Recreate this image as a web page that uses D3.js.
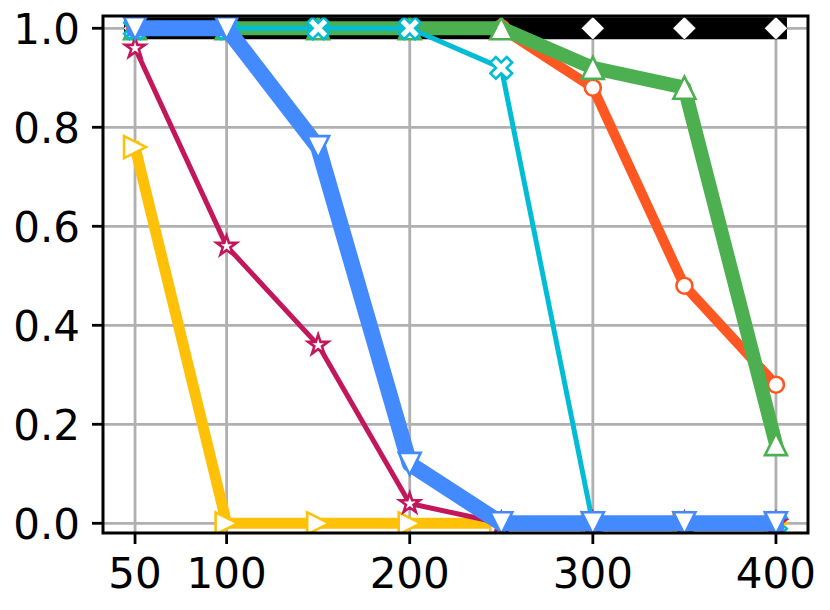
<!DOCTYPE html>
<html><head><meta charset="utf-8">
<script src="https://cdn.jsdelivr.net/npm/d3@7"></script>
<style>body{margin:0;background:#fff}svg{display:block}</style>
</head><body>
<svg id="c" width="830" height="610"></svg>
<script>
const xValues = [50, 100, 150, 200, 250, 300, 350, 400];
const xTicks = [50, 100, 200, 300, 400];
const yTicks = [0, 0.2, 0.4, 0.6, 0.8, 1.0];
const blackVals   = [1, 1, 1, 1, 1, 1, 1, 1];
const orangeVals  = [1, 1, 1, 1, 1, 0.88, 0.48, 0.28];
const greenVals   = [1, 1, 1, 1, 1, 0.92, 0.88, 0.16];
const cyanVals    = [1, 1, 1, 1, 0.92, 0, 0, 0];
const yellowVals  = [0.76, 0, 0, 0, 0, 0, 0, 0];
const crimsonVals = [0.96, 0.56, 0.36, 0.04, 0, 0, 0, 0];
const blueVals    = [1, 1, 0.76, 0.12, 0, 0, 0, 0];

const series = [
  {vals: blackVals,   color: "#000000", lw: 22, marker: "diamond", ms: 23, ew: 0.5},
  {vals: orangeVals,  color: "#FF5722", lw: 10, marker: "circle",  ms: 16, ew: 2.6},
  {vals: greenVals,   color: "#4CAF50", lw: 14, marker: "tri_up",  ms: 22, ew: 2.6},
  {vals: cyanVals,    color: "#00BCD4", lw: 5,  marker: "xfill",   ms: 23, ew: 2.6},
  {vals: yellowVals,  color: "#FFC107", lw: 11, marker: "tri_right", ms: 22, ew: 2.6},
  {vals: crimsonVals, color: "#C2185B", lw: 5,  marker: "star",    ms: 21, ew: 2.6},
  {vals: blueVals,    color: "#448AFF", lw: 16, marker: "tri_down", ms: 22, ew: 2.6}
];

const L = 103, R = 808, T = 16, B = 533;
const x = d3.scaleLinear().domain([32.5, 417.5]).range([L, R]);
const y = d3.scaleLinear().domain([-0.0196, 1.0248]).range([B, T]);

const svg = d3.select("#c");
const font = "DejaVu Sans, sans-serif";
const fs = 42;

svg.append("defs").append("clipPath").attr("id", "clip")
  .append("rect").attr("x", L).attr("y", T).attr("width", R - L).attr("height", B - T);

// grid
const grid = svg.append("g");
grid.selectAll("line.gx").data(xTicks).join("line")
  .attr("x1", d => x(d)).attr("x2", d => x(d)).attr("y1", T).attr("y2", B)
  .attr("stroke", "#b0b0b0").attr("stroke-width", 2.8);
grid.selectAll("line.gy").data(yTicks).join("line")
  .attr("y1", d => y(d)).attr("y2", d => y(d)).attr("x1", L).attr("x2", R)
  .attr("stroke", "#b0b0b0").attr("stroke-width", 2.8);

function markerPath(type, s) {
  const h = s / 2;
  if (type === "tri_up") return `M0,${-h}L${h},${h}L${-h},${h}Z`;
  if (type === "tri_down") return `M0,${h}L${h},${-h}L${-h},${-h}Z`;
  if (type === "tri_right") return `M${h},0L${-h},${-h}L${-h},${h}Z`;
  if (type === "diamond") return `M0,${-h}L${h},0L0,${h}L${-h},0Z`;
  if (type === "circle") return `M${h},0A${h},${h} 0 1,1 ${-h},0A${h},${h} 0 1,1 ${h},0Z`;
  if (type === "xfill") {
    const pts = [[-1,-3],[1,-3],[1,-1],[3,-1],[3,1],[1,1],[1,3],[-1,3],[-1,1],[-3,1],[-3,-1],[-1,-1]];
    const c = Math.SQRT1_2;
    return "M" + pts.map(([a,b]) => {
      const px = (a - b) * c / 6 * s, py = (a + b) * c / 6 * s;
      return px.toFixed(2) + "," + py.toFixed(2);
    }).join("L") + "Z";
  }
  if (type === "star") {
    const pts = [];
    for (let i = 0; i < 10; i++) {
      const r = (i % 2 === 0) ? h : h * 0.381966;
      const a = -Math.PI / 2 + i * Math.PI / 5;
      pts.push([r * Math.cos(a), r * Math.sin(a)]);
    }
    return "M" + pts.map(p => p[0].toFixed(2) + "," + p[1].toFixed(2)).join("L") + "Z";
  }
}

const plot = svg.append("g").attr("clip-path", "url(#clip)");
const line = d3.line().x((d, i) => x(xValues[i])).y(d => y(d));
series.forEach(sr => {
  const g = plot.append("g");
  g.append("path").attr("d", line(sr.vals)).attr("fill", "none")
    .attr("stroke", sr.color).attr("stroke-width", sr.lw)
    .attr("stroke-linecap", "square").attr("stroke-linejoin", "round");
  g.selectAll("path.m").data(sr.vals).join("path")
    .attr("transform", (d, i) => `translate(${x(xValues[i])},${y(d)})`)
    .attr("d", markerPath(sr.marker, sr.ms))
    .attr("fill", "#fff").attr("stroke", sr.color).attr("stroke-width", sr.ew);
});

// spines
svg.append("rect").attr("x", L).attr("y", T).attr("width", R - L).attr("height", B - T)
  .attr("fill", "none").attr("stroke", "#000").attr("stroke-width", 3);

// ticks
svg.selectAll("line.tx").data(xTicks).join("line")
  .attr("x1", d => x(d)).attr("x2", d => x(d)).attr("y1", B).attr("y2", B + 11)
  .attr("stroke", "#000").attr("stroke-width", 2.8);
svg.selectAll("line.ty").data(yTicks).join("line")
  .attr("y1", d => y(d)).attr("y2", d => y(d)).attr("x1", L - 11).attr("x2", L)
  .attr("stroke", "#000").attr("stroke-width", 2.8);

svg.selectAll("text.tx").data(xTicks).join("text")
  .attr("x", d => x(d)).attr("y", 588).attr("text-anchor", "middle")
  .attr("font-family", font).attr("font-size", fs).attr("fill", "#000")
  .text(d => d);
svg.selectAll("text.ty").data(yTicks).join("text")
  .attr("x", 80).attr("y", d => y(d) + 15.5).attr("text-anchor", "end")
  .attr("font-family", font).attr("font-size", fs).attr("fill", "#000")
  .text(d => d.toFixed(1));
</script>
</body></html>
